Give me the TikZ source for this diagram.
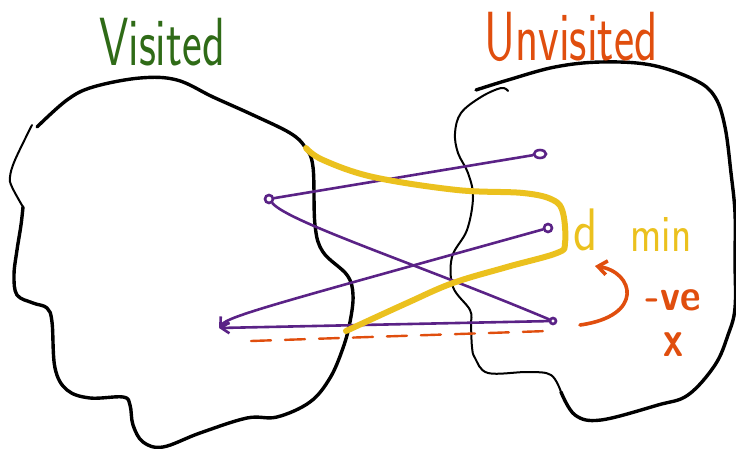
\documentclass[tikz,border=0pt]{standalone}
\usetikzlibrary{arrows.meta,shapes.geometric}
\definecolor{visgreen}{HTML}{2F6B17}
\definecolor{unvorange}{HTML}{E04E0E}
\definecolor{edgepurple}{HTML}{5A2286}
\definecolor{mingold}{HTML}{EBC11E}
\tikzset{
  blob/.style={line width=3.4pt, line cap=round, line join=round},
  thinblob/.style={line width=2pt, line cap=round, line join=round},
  vtx/.style={draw=edgepurple, circle, line width=2.6pt, inner sep=0pt, minimum size=8pt},
  edge/.style={draw=edgepurple, line width=2.6pt, line cap=round},
  hand/.style={font=\sffamily\bfseries, inner sep=0pt},
}
\newcommand{\tall}[2]{\scalebox{1}[#1]{#2}}

\begin{document}
\begin{tikzpicture}[x=1pt,y=-1pt]
  \useasboundingbox (0,0) rectangle (736,449);
  % the two regions
  \draw[blob] plot[smooth, tension=.6] coordinates {(37,127) (67,100) (93,87) (140,78)
    (177,80) (213,97) (253,115) (290,133) (305,147) (313,167) (315,225) (323,252)
    (347,275) (353,295) (350,322) (343,348) (330,378) (310,402) (277,417) (247,418)
    (200,433) (163,447) (143,442) (133,425) (130,405) (123,397) (90,398) (67,390)
    (55,368) (52,322) (47,308) (33,303) (17,295) (14,275) (17,250) (21,225) (23,207)};
  \draw[thinblob] plot[smooth, tension=.6] coordinates {(23,207) (12,187) (10,177) (15,160) (32,125)};
  \draw[blob] plot[smooth, tension=.6] coordinates {(476,90) (508,80) (555,67) (601,62)
    (651,65) (695,80) (715,97) (725,127) (731,173) (735,213) (735,260) (735,308)
    (728,335) (715,365) (688,395) (658,405) (601,420) (575,415) (561,392)};
  \draw[thinblob] plot[smooth, tension=.6] coordinates {(561,392) (551,375) (528,372)
    (488,373) (475,358) (472,347) (471,325) (470,310) (453,287) (452,257) (467,230)
    (473,197) (468,173) (458,153) (455,133) (461,113) (481,97) (501,88) (508,91)};
  % titles
  \node[hand, text=visgreen, font=\fontsize{47}{50}\sffamily] (vis) at (162,42) {\tall{1.45}{Visited}};
  \node[hand, text=unvorange, font=\fontsize{48}{52}\sffamily] (unvis) at (571,37) {\tall{1.45}{Unvisited}};
  % vertices
  \node[vtx] (a) at (269,199) {};
  \node[vtx, ellipse, minimum width=12pt, minimum height=8pt] (b) at (540,154) {};
  \node[vtx] (c) at (548,228) {};
  \node[vtx, minimum size=6pt] (d) at (553,321) {};
  \coordinate (e) at (219,328);
  % edges
  \draw[edge] (b) -- (a);
  \draw[edge] (a) .. controls (288,222) and (420,265) .. (d);
  \draw[edge, -{Straight Barb[length=8pt, width=11pt]}] (c) .. controls (275,304) and (228,316) .. (e);
  \draw[edge, -{Straight Barb[length=8pt, width=11pt]}] (d) -- (e);
  % shortest crossing edge
  \draw[mingold, line width=6pt, line cap=round, line join=round] plot[smooth, tension=.6]
    coordinates {(306,148) (323,160) (373,177) (457,190) (523,193) (553,200) (563,213)
    (565,243) (557,253) (507,267) (453,283) (407,303) (346,331)};
  \node[hand, text=mingold, font=\fontsize{50}{54}\sffamily] (dlab) at (586,230) {\tall{1.2}{d}};
  \node[hand, text=mingold, font=\fontsize{42}{46}\sffamily] (minlab) at (661,234) {\tall{1.25}{min}};
  % negative edge
  \coordinate (dl) at (251,341);
  \coordinate (dr) at (548,331);
  \draw[unvorange, line width=2.4pt, dash pattern=on 20pt off 14pt, line cap=round] (dl) -- (dr);
  \coordinate (tailx) at (580,325);
  \coordinate (tipx) at (595,266);
  \draw[unvorange, line width=3.6pt, line cap=round, -{Straight Barb[length=9pt, width=14pt]}]
    (tailx) .. controls (645,316) and (634,272) .. (tipx);
  \node[hand, text=unvorange, align=center, font=\fontsize{40}{40}\sffamily\bfseries] (neg) at (673,323)
    {\tall{1.1}{-ve}\\[6pt]\tall{1.3}{x}};
\end{tikzpicture}
\end{document}
